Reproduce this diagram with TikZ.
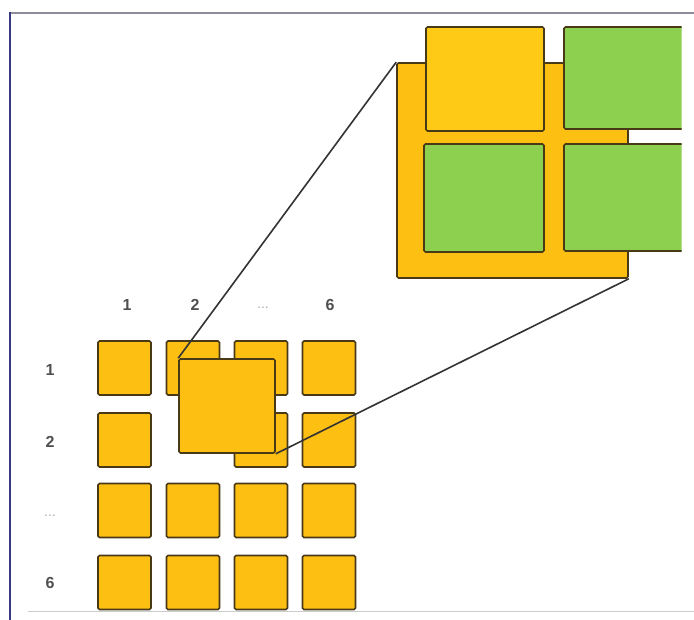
\documentclass[tikz,border=0pt]{standalone}
\usepackage{fontspec}
\setmainfont{Liberation Sans}
\usepackage{xcolor}
\usetikzlibrary{positioning}
\definecolor{tileorange}{RGB}{253,191,18}
\definecolor{zoomyellow}{RGB}{255,202,22}
\definecolor{leafgreen}{RGB}{141,207,78}
\definecolor{edgebrown}{RGB}{72,58,22}
\definecolor{framenavy}{RGB}{58,58,130}
\definecolor{framegray}{RGB}{140,140,155}
\definecolor{labelgray}{RGB}{80,80,80}

\begin{document}
\begin{tikzpicture}[x=1pt,y=-1pt,
    tile/.style={rectangle,rounded corners=1.5pt,draw=edgebrown,fill=tileorange,line width=1.6pt,
      minimum width=53pt,minimum height=54pt,inner sep=0pt},
    zoomtile/.style={rectangle,rounded corners=1.5pt,draw=edgebrown,line width=1.6pt,inner sep=0pt},
    idx/.style={font=\fontsize{16}{16}\selectfont\bfseries,text=labelgray,inner sep=0pt},
    dots/.style={font=\fontsize{14}{14}\selectfont,text=labelgray!45,inner sep=0pt},
    zoomline/.style={draw=black!80,line width=1.6pt}
  ]
    \useasboundingbox (0,0) rectangle (694,620);
    \fill[white] (0,0) rectangle (694,620);

    % frame
    \draw[framegray,line width=2pt] (10,13) -- (694,13);
    \draw[framenavy,line width=2pt] (10,12) -- (10,620);
    \draw[black!20,line width=1pt] (28,611) -- (694,611);

    % indices
    \node[idx] (c1) at (127,305) {1};
    \node[idx] (c2) at (195,305) {2};
    \node[dots] (c3) at (263,308) {...};
    \node[idx] (c6) at (330,305) {6};
    \node[idx] (r1) at (50,370) {1};
    \node[idx] (r2) at (50,442) {2};
    \node[dots] (r3) at (50,516) {...};
    \node[idx] (r6) at (50,583) {6};

    % input grid
    \node[tile] (t11) at (124.5,368) {};
    \node[tile] (t12) at (193,368) {};
    \node[tile] (t13) at (261,368) {};
    \node[tile] (t14) at (329,368) {};
    \node[tile] (t21) at (124.5,440) {};
    \node[tile] (t23) at (261,440) {};
    \node[tile] (t24) at (329,440) {};
    \node[tile] (t31) at (124.5,510.5) {};
    \node[tile] (t32) at (193,510.5) {};
    \node[tile] (t33) at (261,510.5) {};
    \node[tile] (t34) at (329,510.5) {};
    \node[tile] (t41) at (124.5,582.5) {};
    \node[tile] (t42) at (193,582.5) {};
    \node[tile] (t43) at (261,582.5) {};
    \node[tile] (t44) at (329,582.5) {};

    \node[tile,minimum width=96pt,minimum height=94pt] (patch) at (227,406) {};

    % zoomed patch
    \node[zoomtile,fill=tileorange,minimum width=231pt,minimum height=215pt] (zoom) at (512.5,170.5) {};
    \node[zoomtile,fill=zoomyellow,minimum width=118pt,minimum height=104pt] (q11) at (485,79) {};
    \node[zoomtile,fill=leafgreen,minimum width=120pt,minimum height=108pt] (q21) at (484,198) {};
    \begin{scope}
      \clip (550,0) rectangle (681.5,300);
      \node[zoomtile,fill=leafgreen,minimum width=122pt,minimum height=102pt] (q12) at (625,78) {};
      \node[zoomtile,fill=leafgreen,minimum width=122pt,minimum height=107pt] (q22) at (625,197.5) {};
    \end{scope}

    \draw[zoomline] (patch.north west) -- (zoom.north west);
    \draw[zoomline] (patch.south east) -- (zoom.south east);
  \end{tikzpicture}
\end{document}
